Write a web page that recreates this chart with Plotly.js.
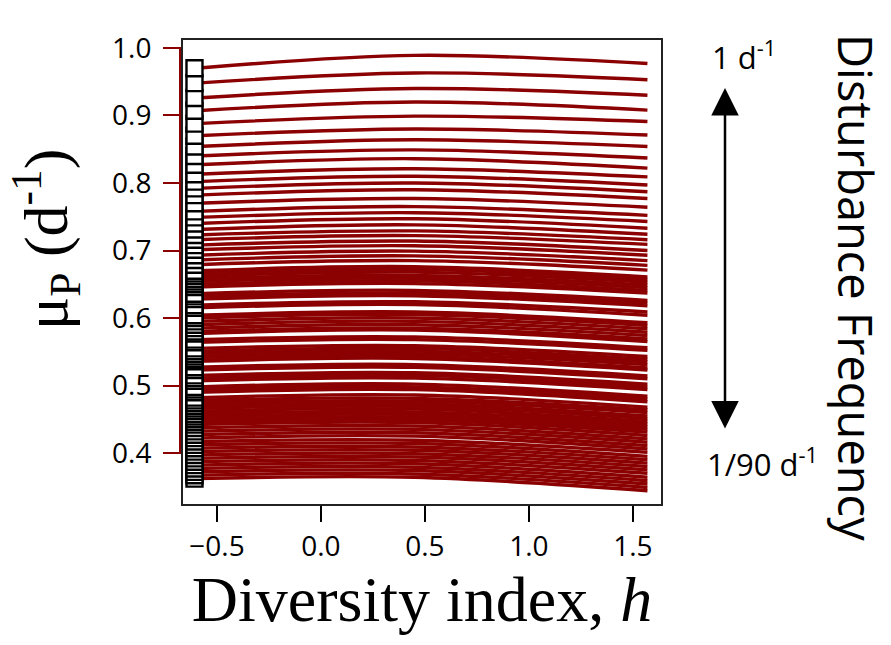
<!DOCTYPE html>
<html>
<head>
<meta charset="utf-8">
<script src="https://cdn.plot.ly/plotly-3.0.1.min.js"></script>
<style>html,body{margin:0;padding:0;background:#fff;}#chart{width:891px;height:645px;}</style>
</head>
<body>
<div id="chart"></div>
<script>
// x positions where each curve is read: left end, middle, right end
const xPoints = [-0.6, 0.45, 1.57];
// μP value of each curve at the left end (x = -0.6)
const yLeft = [0.970,0.948,0.926,0.907,0.888,0.870,0.854,0.840,0.827,0.813,0.802,0.792,0.782,0.770,0.758,0.749,0.740,0.731,0.723,0.716,0.708,0.701,0.693,0.686,0.679,0.670,0.666,0.662,0.658,0.654,0.650,0.646,
  0.636,0.632,0.628,0.619,0.615,0.604,0.600,0.595,0.590,0.585,0.580,0.577,0.568,0.564,0.555,0.551,0.547,0.543,0.539,0.536,0.527,0.523,0.515,0.511,0.507,0.498,0.494,0.490,0.482,0.478,0.474,0.470,0.466,0.462,0.458,0.454,0.450,0.446,
  0.442,0.437,0.432,0.427,0.422,0.417,0.412,0.407,0.402,0.397,0.392,0.387,0.382,0.377,0.372,0.367,0.362];
// μP value of each curve near the middle (x = 0.45)
const yMid = [0.989,0.963,0.940,0.920,0.899,0.880,0.864,0.849,0.836,0.821,0.810,0.800,0.790,0.777,0.765,0.756,0.747,0.738,0.729,0.722,0.714,0.707,0.699,0.692,0.685,0.676,0.672,0.668,0.663,0.659,0.655,0.651,
  0.641,0.637,0.633,0.624,0.620,0.609,0.605,0.600,0.595,0.590,0.585,0.582,0.572,0.568,0.559,0.555,0.551,0.547,0.543,0.540,0.531,0.527,0.519,0.515,0.511,0.502,0.498,0.494,0.486,0.481,0.477,0.473,0.469,0.465,0.461,0.457,0.453,0.449,
  0.445,0.440,0.435,0.430,0.425,0.419,0.414,0.409,0.404,0.399,0.394,0.389,0.384,0.379,0.374,0.369,0.364];
// μP value of each curve at the right end (x = 1.57)
const yRight = [0.977,0.953,0.930,0.908,0.891,0.871,0.854,0.837,0.822,0.809,0.797,0.787,0.777,0.764,0.752,0.743,0.733,0.724,0.716,0.709,0.700,0.693,0.685,0.678,0.671,0.661,0.657,0.653,0.649,0.645,0.641,0.637,
  0.626,0.622,0.618,0.609,0.604,0.593,0.589,0.584,0.579,0.574,0.569,0.565,0.556,0.552,0.543,0.539,0.535,0.531,0.526,0.523,0.514,0.510,0.502,0.498,0.494,0.484,0.480,0.476,0.468,0.464,0.460,0.455,0.451,0.447,0.443,0.439,0.435,0.431,
  0.426,0.421,0.416,0.411,0.406,0.401,0.395,0.390,0.385,0.380,0.375,0.370,0.364,0.359,0.354,0.349,0.344];
const markerX = -0.608;
const xTicks = [-0.5, 0.0, 0.5, 1.0, 1.5];
const xTickText = ['\u22120.5', '0.0', '0.5', '1.0', '1.5'];
const yTicks = [0.4, 0.5, 0.6, 0.7, 0.8, 0.9, 1.0];
const yTickText = ['0.4', '0.5', '0.6', '0.7', '0.8', '0.9', '1.0'];

const red = '#8b0000';
const traces = [];
for (let i = yLeft.length - 1; i >= 0; i--) {
  traces.push({
    type: 'scatter', mode: 'lines',
    x: xPoints, y: [yLeft[i], yMid[i], yRight[i]],
    line: {color: red, width: 3.4, shape: 'spline', smoothing: 1},
    hoverinfo: 'skip', showlegend: false
  });
}
const markerY = yLeft.slice().reverse();
traces.push({
  type: 'scatter', mode: 'markers',
  x: markerY.map(() => markerX), y: markerY,
  marker: {symbol: 'square', size: 16, color: 'white', line: {color: 'black', width: 2.4}},
  hoverinfo: 'skip', showlegend: false
});

const PL = 182, PR = 662, PT = 39, PB = 505;
const pw = PR - PL, ph = PB - PT;
const px = v => (v - PL) / pw;
const py = v => (PB - v) / ph;

const layout = {
  width: 891, height: 645,
  margin: {l: PL, r: 891 - PR, t: PT, b: 645 - PB},
  paper_bgcolor: 'white', plot_bgcolor: 'white',
  showlegend: false,
  font: {family: 'Open Sans, sans-serif', color: 'black'},
  xaxis: {
    range: [-0.668, 1.64], tickvals: xTicks, ticktext: xTickText,
    ticks: 'outside', ticklen: 16, tickwidth: 2, tickcolor: 'black',
    showline: false, showgrid: false, zeroline: false,
    tickfont: {family: 'Open Sans, sans-serif', size: 28, color: 'black'},
    title: {text: 'Diversity index, <i>h</i>', font: {family: 'Liberation Serif, serif', size: 64, color: 'black'}, standoff: 12}
  },
  yaxis: {
    range: [0.323, 1.0133], tickvals: yTicks, ticktext: yTickText,
    ticks: 'outside', ticklen: 18, tickwidth: 2, tickcolor: red,
    showline: false, showgrid: false, zeroline: false, ticklabelstandoff: 6,
    tickfont: {family: 'Open Sans, sans-serif', size: 28, color: 'black'}
  },
  shapes: [
    {type: 'rect', xref: 'paper', yref: 'paper', x0: 0, x1: 1, y0: 0, y1: 1, line: {color: '#222', width: 2}},
    {type: 'line', xref: 'paper', yref: 'y', x0: px(180), x1: px(180), y0: 0.4, y1: 1.0, line: {color: red, width: 2}}
  ],
  annotations: [
    {xref: 'paper', yref: 'paper', x: px(46), y: py(240), text: 'μ<sub>P</sub> (d<sup>-1</sup>)', textangle: -90,
     showarrow: false, xanchor: 'center', yanchor: 'middle', font: {family: 'Liberation Serif, serif', size: 62, color: 'black'}},
    {xref: 'paper', yref: 'paper', x: px(856), y: py(287), text: 'Disturbance Frequency', textangle: 90,
     showarrow: false, xanchor: 'center', yanchor: 'middle', font: {family: 'Open Sans, sans-serif', size: 47, color: 'black'}},
    {xref: 'paper', yref: 'paper', x: px(744), y: py(56), text: '1 d<sup>-1</sup>',
     showarrow: false, xanchor: 'center', yanchor: 'middle', font: {family: 'Open Sans, sans-serif', size: 31, color: 'black'}},
    {xref: 'paper', yref: 'paper', x: px(762), y: py(462), text: '1/90 d<sup>-1</sup>',
     showarrow: false, xanchor: 'center', yanchor: 'middle', font: {family: 'Open Sans, sans-serif', size: 31, color: 'black'}},
    {xref: 'paper', yref: 'paper', x: px(725), y: py(88), text: '', showarrow: true,
     axref: 'pixel', ayref: 'pixel', ax: 0, ay: 342, arrowside: 'end+start',
     arrowhead: 2, startarrowhead: 2, arrowsize: 2.2, startarrowsize: 2.2, arrowwidth: 2.5, arrowcolor: 'black'}
  ]
};

Plotly.newPlot('chart', traces, layout, {displayModeBar: false, staticPlot: true});
</script>
</body>
</html>
